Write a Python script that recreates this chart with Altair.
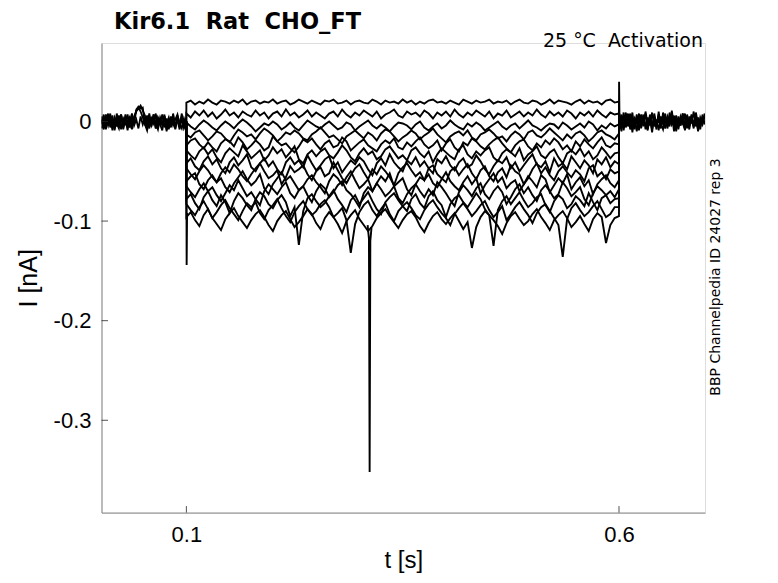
import altair as alt
import numpy as np
import pandas as pd

# ---------------- data (current in pA) ----------------
T_START = 0.002      # first sample shown
T_ON = 0.1           # step onset (s)
T_OFF = 0.6          # step end (s)
T_END = 0.699        # last sample shown
BASE = 0             # holding current level (pA)

# baseline before the step (4 overlapping sweeps)
PRE = {
    "pre1": [5,-6,7,-3,8,-7,2,-5,6,-8,3,-2,7,-6,4,-3,12,15,13,14,-4,6,-7,3,-2,8,-6,4,-3,7,-8,2,-5,6,-7,3,-3,8,-6,4],
    "pre2": [-3,7,-8,4,-2,6,-7,8,-4,3,-6,7,-2,4,-8,5,10,13,16,11,6,-4,8,-3,5,-7,4,-2,7,-6,3,-8,5,-4,2,7,-3,4,-7,-2],
    "pre3": [2,-8,3,-4,6,-9,4,-2,-7,7,-3,2,-9,5,-4,3,11,14,10,4,-3,-9,4,-5,7,-2,-8,3,-4,5,-10,2,-3,4,-8,6,-2,-7,3,-4],
    "pre4": [-7,3,-4,8,-6,2,-9,4,-3,7,-8,3,-2,-5,8,-4,2,-7,5,-3,4,-8,2,-4,7,-7,3,-3,-9,5,-2,4,-6,8,-4,1,-8,3,-6,2],
}
# baseline after the step
POST = {
    "post1": [8,-4,9,-6,5,-3,9,-8,4,-2,7,-5,10,-3,5,-8,8,-4,3,-7,9,-2,5,-5,11,-4,6,-8,4,-3,8,-7,5,-2,10,-5,4,-8,7,-3],
    "post2": [-5,7,-9,4,-3,8,-7,3,-10,5,-2,7,-8,4,-4,9,-5,2,-9,5,-3,8,-7,4,-2,6,-10,3,-4,8,-5,2,-8,5,-3,7,-9,4,-2,5],
    "post3": [3,-10,5,-2,8,-8,2,-4,7,-9,4,-3,8,-7,3,-11,5,-4,7,-2,-8,4,-5,9,-3,2,-7,5,-4,8,-9,3,-2,7,-5,4,-10,2,-3,8],
    "post4": [-8,2,-4,9,-5,4,-11,3,-2,8,-7,5,-3,-9,7,-4,3,-8,10,-5,2,-7,4,-3,8,-10,3,-5,5,-2,-8,7,-4,3,-7,9,-3,-5,4,-2],
}

# current during the voltage step, one list per sweep (0.1 s .. 0.6 s)
STEP = {
    "s01": [19,21,17,20,18,22,19,17,21,20, 18,21,19,22,17,20,21,18,20,19, 22,18,20,21,17,19,22,20,18,21,
            19,17,21,20,22,18,19,21,17,20, 21,19,18,22,20,17,21,19,20,18, 22,19,21,17,20,18,21,22,19,20,
            18,21,19,17,22,20,18,21,19,20, 22,18,20,19,21,17,20,22,19,18, 21,20,17,19,22,18,21,20,19,17,
            20,22,18,21,19,20,17,21,22,19, 20],
    "s02": [8,4,10,6,11,5,9,3,7,12, 6,9,4,10,7,5,11,6,9,3, 8,10,5,12,6,9,4,7,11,5, 9,6,3,8,10,5,12,7,4,9,
            6,11,8,5,10,3,7,9,12,6, 4,10,7,9,5,11,8,3,9,6, 10,5,12,7,4,9,6,11,8,5, 10,3,8,6,11,4,7,10,5,9,
            6,12,7,4,10,6,9,5,11,8, 3,9,6,10,5,11,7,4,9,7, 8],
    "s03": [-1,-5,-8,-3,1,-2,-6,-9,-4,0, -3,-7,-2,2,-1,-5,-10,-6,-2,-4, 0,-3,-8,-5,-1,-6,-9,-4,1,-2,
            -5,-7,-3,0,-4,-8,-6,-1,-3,-9, -5,-2,1,-4,-7,-3,-6,-10,-5,-1, -2,-4,-8,-3,0,-6,-9,-5,-2,-7,
            -4,1,-3,-6,-8,-2,-5,-1,-4,-9, -6,-3,0,-5,-8,-4,-2,-7,-3,1, -4,-6,-9,-5,-2,-3,-7,-1,-4,-8,
            -5,-2,-6,0,-3,-9,-4,-7,-2,-5, -3],
    "s04": [-13,-16,-11,-9,-14,-19,-15,-10,-12,-17, -21,-14,-8,-11,-15,-13,-18,-12,-7,-10,
            -14,-20,-16,-11,-13,-9,-12,-17,-19,-13, -10,-6,-11,-16,-14,-18,-22,-15,-12,-9,
            -13,-17,-11,-14,-19,-12,-8,-10,-15,-20, -16,-13,-9,-12,-18,-14,-11,-7,-13,-17,
            -21,-15,-12,-10,-14,-9,-16,-19,-13,-11, -8,-12,-17,-15,-20,-14,-10,-13,-18,-11,
            -9,-14,-16,-12,-7,-11,-15,-19,-13,-17, -12,-10,-14,-20,-16,-11,-9,-13,-15,-18, -12],
    "s05": [-24,-19,-17,-23,-27,-21,-26,-30,-22,-18, -20,-25,-16,-21,-28,-24,-19,-23,-29,-26,
            -15,-20,-24,-22,-27,-31,-25,-18,-21,-17, -23,-28,-22,-19,-26,-24,-16,-20,-29,-25,
            -21,-18,-24,-27,-30,-23,-19,-22,-17,-26, -28,-21,-25,-20,-16,-23,-27,-24,-19,-29,
            -22,-18,-26,-30,-21,-24,-17,-20,-25,-28, -23,-19,-16,-22,-27,-31,-24,-20,-18,-25,
            -29,-22,-26,-19,-23,-17,-21,-28,-24,-30, -20,-25,-18,-23,-27,-21,-16,-24,-26,-22, -23],
    "s06": [-29,-34,-38,-30,-26,-33,-28,-36,-41,-32, -27,-31,-35,-24,-30,-37,-33,-29,-39,-34,
            -26,-32,-28,-36,-31,-25,-38,-42,-33,-29, -35,-30,-27,-34,-37,-31,-24,-29,-36,-40,
            -32,-27,-33,-30,-38,-35,-28,-25,-31,-37, -34,-39,-29,-26,-32,-36,-30,-41,-33,-27,
            -31,-35,-38,-28,-24,-33,-37,-30,-34,-29, -26,-36,-40,-32,-28,-31,-35,-27,-39,-33,
            -30,-25,-34,-37,-31,-28,-36,-42,-32,-29, -33,-27,-35,-30,-38,-34,-26,-31,-37,-32, -31],
    "s07": [-42,-37,-45,-49,-40,-35,-43,-38,-47,-52, -41,-36,-44,-39,-33,-46,-50,-42,-37,-45,
            -40,-48,-53,-41,-36,-43,-39,-46,-34,-42, -49,-44,-38,-35,-47,-41,-51,-45,-39,-43,
            -36,-40,-48,-54,-42,-37,-44,-33,-41,-46, -50,-39,-43,-36,-45,-40,-47,-52,-38,-42,
            -35,-44,-49,-41,-37,-46,-43,-34,-40,-48, -53,-45,-39,-42,-36,-47,-41,-50,-44,-38,
            -33,-43,-46,-40,-51,-37,-45,-42,-48,-35, -41,-47,-39,-44,-52,-38,-43,-36,-46,-40, -43],
    "s08": [-47,-53,-58,-50,-44,-49,-56,-61,-52,-46, -51,-43,-48,-55,-60,-53,-47,-42,-50,-57,
            -54,-49,-63,-56,-45,-51,-48,-44,-53,-59, -50,-46,-55,-52,-41,-49,-57,-62,-54,-47,
            -43,-51,-58,-48,-53,-45,-50,-56,-64,-52, -46,-42,-49,-55,-51,-59,-47,-44,-53,-57,
            -61,-50,-46,-54,-48,-43,-52,-58,-49,-45, -55,-60,-51,-47,-56,-44,-50,-53,-63,-57,
            -48,-42,-52,-46,-54,-59,-50,-45,-51,-56, -49,-53,-60,-47,-44,-55,-51,-58,-48,-52, -50],
    "s09": [-60,-55,-52,-63,-68,-59,-54,-61,-57,-66, -71,-62,-56,-50,-58,-64,-60,-53,-67,-73,
            -63,-57,-51,-59,-55,-62,-69,-65,-58,-54, -61,-66,-72,-60,-53,-57,-64,-56,-50,-59,
            -67,-63,-58,-70,-62,-55,-60,-52,-65,-61, -57,-68,-74,-63,-56,-59,-53,-62,-66,-58,
            -51,-60,-65,-69,-61,-55,-63,-57,-72,-64, -58,-52,-61,-56,-67,-62,-59,-70,-63,-55,
            -60,-66,-54,-58,-71,-64,-57,-62,-53,-68, -61,-56,-65,-59,-73,-63,-58,-54,-62,-66, -59],
    "s10": [-65,-71,-76,-68,-62,-70,-66,-74,-80,-72, -64,-69,-59,-67,-75,-71,-78,-84,-70,-63,
            -68,-73,-66,-61,-72,-77,-69,-65,-74,-81, -70,-63,-67,-76,-71,-64,-60,-69,-73,-79,
            -86,-72,-66,-70,-62,-68,-75,-71,-65,-77, -82,-73,-67,-63,-70,-76,-68,-74,-61,-66,
            -72,-79,-85,-71,-64,-69,-75,-67,-62,-73, -78,-70,-65,-71,-83,-76,-68,-63,-72,-66,
            -74,-80,-69,-64,-70,-77,-73,-61,-67,-75, -71,-66,-78,-84,-72,-65,-69,-74,-70,-76, -68],
    "s11": [-78,-73,-82,-88,-76,-70,-79,-85,-74,-81, -92,-80,-72,-77,-84,-89,-78,-71,-75,-83,
            -87,-79,-74,-81,-95,-86,-124,-90,-77,-73, -80,-86,-82,-75,-69,-78,-84,-91,-79,-74,
            -83,-77,-71,-80,-88,-93,-81,-76,-72,-79, -85,-90,-78,-73,-82,-87,-75,-70,-79,-84,
            -96,-83,-77,-74,-81,-86,-79,-72,-78,-88, -94,-125,-89,-80,-75,-83,-77,-71,-79,-86,
            -82,-76,-73,-84,-91,-80,-74,-78,-87,-83, -75,-79,-85,-72,-81,-89,-77,-74,-82,-78, -77],
    "s12": [-83,-89,-94,-86,-80,-88,-97,-91,-84,-79, -87,-93,-99,-90,-82,-86,-81,-92,-98,-89,
            -84,-78,-87,-95,-101,-91,-85,-80,-88,-94, -90,-83,-79,-86,-96,-92,-87,-99,-132,-103,
            -91,-84,-80,-89,-95,-88,-82,-93,-100,-90, -85,-81,-87,-94,-98,-89,-83,-79,-86,-92,
            -97,-104,-93,-87,-82,-88,-95,-90,-84,-80, -89,-96,-91,-85,-99,-93,-86,-81,-88,-94,
            -102,-92,-86,-83,-90,-97,-104,-136,-98,-87, -82,-89,-95,-91,-85,-80,-88,-96,-93,-86, -86],
    "s13": [-96,-91,-99,-105,-94,-88,-97,-103,-109,-98, -92,-87,-95,-101,-107,-99,-93,-89,-96,-104,
            -110,-100,-94,-90,-98,-106,-101,-95,-88,-93, -102,-108,-97,-91,-96,-103,-112,-100,-94,-89,
            -98,-104,-110,-105,-97,-92,-88,-95,-101,-107, -99,-93,-90,-96,-105,-111,-102,-95,-91,-98,
            -103,-97,-92,-100,-108,-101,-127,-106,-96,-90, -94,-99,-105,-113,-102,-95,-91,-98,-104,-100,
            -93,-88,-96,-102,-109,-99,-94,-90,-97,-106, -101,-95,-103,-110,-98,-92,-96,-122,-104,-97, -95],
}

# fast events drawn at their own sample times
ONSET_T = [0.0999, 0.1003, 0.1008]       # capacitive transient at step onset
ONSET_I = [0, -144, -92]
SPIKE_T = [0.3095, 0.3110, 0.3118, 0.3126, 0.3140]   # large inward event
SPIKE_I = [-104, -118, -352, -120, -106]
OFFSET_T = [0.5999, 0.6001, 0.6005, 0.6010]           # tail transient at step end
OFFSET_I = [-20, 40, 8, 2]

X_TICKS = [0.1, 0.6]
Y_TICKS = [-0.3, -0.2, -0.1, 0.0]

NB = "\u00a0"
TITLE = "Kir6.1 " + NB + "Rat " + NB + "CHO_FT"
CONDITION = "25 °C " + NB + "Activation"
SOURCE = "BBP Channelpedia ID 24027 rep 3"

# ---------------- table ----------------
rows = []
for name, vals in PRE.items():
    for t, v in zip(np.linspace(T_START, T_ON - 0.0003, len(vals)), vals):
        rows.append({"t": t, "i": v / 1000.0, "sweep": name, "kind": "base"})
for name, vals in POST.items():
    for t, v in zip(np.linspace(T_OFF + 0.0003, T_END, len(vals)), vals):
        rows.append({"t": t, "i": v / 1000.0, "sweep": name, "kind": "base"})
for name, vals in STEP.items():
    ts = [T_ON - 0.0001] + list(np.linspace(T_ON, T_OFF, len(vals))) + [T_OFF + 0.0001]
    vs = [BASE] + vals + [BASE]
    for t, v in zip(ts, vs):
        rows.append({"t": t, "i": v / 1000.0, "sweep": name, "kind": "step"})
for name, tt, ii in (("onset", ONSET_T, ONSET_I), ("spike", SPIKE_T, SPIKE_I), ("offset", OFFSET_T, OFFSET_I)):
    for t, v in zip(tt, ii):
        rows.append({"t": t, "i": v / 1000.0, "sweep": name, "kind": "event"})
df = pd.DataFrame(rows)

W, H = 603.5, 469.6
X_DOM = [0.0019, 0.6994]
Y_DOM = [-0.3927, 0.0788]
FONT = "DejaVu Sans"
AX = "#262626"

xs = alt.Scale(domain=X_DOM, nice=False, zero=False)
ys = alt.Scale(domain=Y_DOM, nice=False, zero=False)

x_enc = alt.X("t:Q", scale=xs, axis=alt.Axis(
    values=X_TICKS, format=".1f", title="t [s]", grid=False, ticks=False, tickSize=0,
    labelPadding=12, labelFontSize=22, titleFontSize=24, titleFontWeight="normal",
    titleX=W / 2, titleY=48.4, titleBaseline="middle", titleAlign="center"))
y_enc = alt.Y("i:Q", scale=ys, axis=alt.Axis(
    values=Y_TICKS, title="I [nA]", grid=False, ticks=False, tickSize=0,
    labelPadding=10.5, labelFontSize=22, titleFontSize=25, titleFontWeight="normal",
    labelExpr="datum.value == 0 ? '0' : replace(format(datum.value, '.1f'), '\u2212', '-')",
    titleX=-73.5, titleY=H / 2, titleAngle=270, titleBaseline="middle", titleAlign="center"))

base_lines = alt.Chart(df).transform_filter(alt.datum.kind == "base").mark_line(
    color="black", strokeWidth=1.8, clip=True
).encode(x=x_enc, y=y_enc, detail="sweep:N", order="t:Q")
step_lines = alt.Chart(df).transform_filter(alt.datum.kind != "base").mark_line(
    color="black", strokeWidth=1.9, clip=True
).encode(x=alt.X("t:Q", scale=xs), y=alt.Y("i:Q", scale=ys), detail="sweep:N", order="t:Q")

xt = alt.Chart(pd.DataFrame({"t": X_TICKS})).mark_rule(color=AX, strokeWidth=0.8).encode(
    x=alt.X("t:Q", scale=xs), y=alt.value(H), y2=alt.value(H - 6.5))
yt = alt.Chart(pd.DataFrame({"i": Y_TICKS})).mark_rule(color=AX, strokeWidth=0.8).encode(
    y=alt.Y("i:Q", scale=ys), x=alt.value(0), x2=alt.value(6.5))

title = alt.Chart(pd.DataFrame({"s": [TITLE]})).mark_text(
    font=FONT, fontSize=22.5, fontWeight="bold", align="left", baseline="alphabetic", color="black"
).encode(text="s:N", x=alt.value(12.5), y=alt.value(-13.5))
cond = alt.Chart(pd.DataFrame({"s": [CONDITION]})).mark_text(
    font=FONT, fontSize=19, align="right", baseline="alphabetic", color="black"
).encode(text="s:N", x=alt.value(W - 2), y=alt.value(4))
src = alt.Chart(pd.DataFrame({"s": [SOURCE]})).mark_text(
    font=FONT, fontSize=14, align="center", baseline="middle", angle=270, color="black"
).encode(text="s:N", x=alt.value(615), y=alt.value(234))

chart = alt.layer(base_lines, step_lines, xt, yt, title, cond, src).properties(
    width=W, height=H, autosize="none",
    padding={"left": 93.5, "top": 35, "right": 40, "bottom": 62},
).configure_view(stroke=None).configure_axis(
    domainColor=AX, domainWidth=0.8, labelColor=AX, titleColor=AX,
    labelFont=FONT, titleFont=FONT,
).configure(background="white")

chart.save("out.html", embed_options={"renderer": "svg", "actions": False})
